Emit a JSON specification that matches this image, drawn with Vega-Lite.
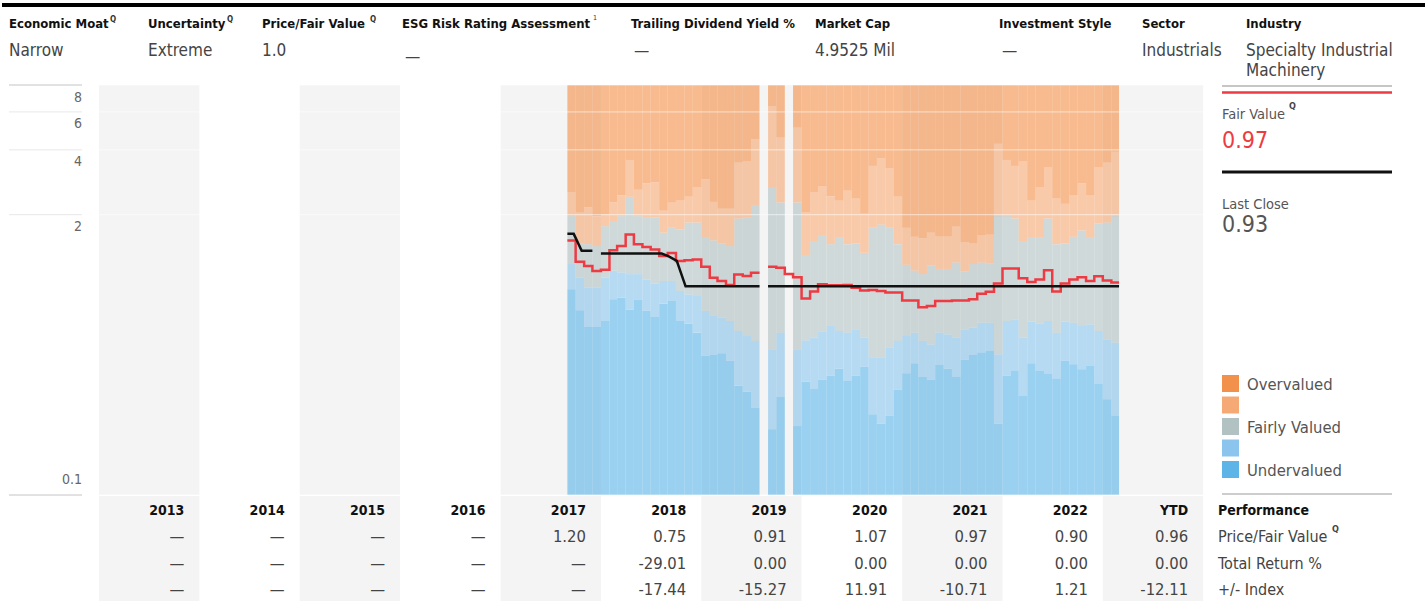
{
"$schema": "https://vega.github.io/schema/vega-lite/v6.json",
"padding": 0,
"background": "#ffffff",
"spacing": 0,
"config": {
  "view": {"stroke": null},
  "font": "DejaVu Sans Condensed, DejaVu Sans, sans-serif",
  "text": {"baseline": "alphabetic", "align": "left"},
  "concat": {"spacing": 0},
  "axisY": {"title": null}
},
"datasets": {
  "years": [
    {"start": "2013-01-01", "end": "2014-01-01"},
    {"start": "2015-01-01", "end": "2016-01-01"},
    {"start": "2017-01-01", "end": "2018-01-01"},
    {"start": "2019-01-01", "end": "2020-01-01"},
    {"start": "2021-01-01", "end": "2022-01-01"},
    {"start": "2023-01-01", "end": "2024-01-01"}
  ],
  "ticks": [
    {"tick": 0.1}, {"tick": 2}, {"tick": 4}, {"tick": 6}, {"tick": 8}
  ],
  "bands": [
    {"month": "2017-09-01", "end": "2017-10-01", "uTop": 0.901, "luTop": 1.18, "fTop": 1.97, "loTop": 2.55},
    {"month": "2017-10-01", "end": "2017-11-01", "uTop": 0.72, "luTop": 1.02, "fTop": 1.47, "loTop": 2.04},
    {"month": "2017-11-01", "end": "2017-12-01", "uTop": 0.602, "luTop": 0.917, "fTop": 1.46, "loTop": 2.17},
    {"month": "2017-12-01", "end": "2018-01-01", "uTop": 0.602, "luTop": 0.917, "fTop": 1.43, "loTop": 1.97},
    {"month": "2018-01-01", "end": "2018-02-01", "uTop": 0.642, "luTop": 1.02, "fTop": 1.77, "loTop": 2.01},
    {"month": "2018-02-01", "end": "2018-03-01", "uTop": 0.81, "luTop": 1.10, "fTop": 1.87, "loTop": 2.29},
    {"month": "2018-03-01", "end": "2018-04-01", "uTop": 0.824, "luTop": 1.08, "fTop": 1.97, "loTop": 2.46},
    {"month": "2018-04-01", "end": "2018-05-01", "uTop": 0.727, "luTop": 1.06, "fTop": 2.42, "loTop": 3.59},
    {"month": "2018-05-01", "end": "2018-06-01", "uTop": 0.804, "luTop": 1.06, "fTop": 1.97, "loTop": 2.61},
    {"month": "2018-06-01", "end": "2018-07-01", "uTop": 0.715, "luTop": 1.00, "fTop": 1.95, "loTop": 2.79},
    {"month": "2018-07-01", "end": "2018-08-01", "uTop": 0.67, "luTop": 0.957, "fTop": 1.94, "loTop": 2.82},
    {"month": "2018-08-01", "end": "2018-09-01", "uTop": 0.773, "luTop": 0.985, "fTop": 1.65, "loTop": 2.10},
    {"month": "2018-09-01", "end": "2018-10-01", "uTop": 0.795, "luTop": 0.985, "fTop": 1.74, "loTop": 2.28},
    {"month": "2018-10-01", "end": "2018-11-01", "uTop": 0.642, "luTop": 0.885, "fTop": 1.71, "loTop": 2.33},
    {"month": "2018-11-01", "end": "2018-12-01", "uTop": 0.624, "luTop": 0.854, "fTop": 1.84, "loTop": 2.42},
    {"month": "2018-12-01", "end": "2019-01-01", "uTop": 0.567, "luTop": 0.839, "fTop": 1.84, "loTop": 2.69},
    {"month": "2019-01-01", "end": "2019-02-01", "uTop": 0.442, "luTop": 0.715, "fTop": 1.56, "loTop": 2.92},
    {"month": "2019-02-01", "end": "2019-03-01", "uTop": 0.446, "luTop": 0.678, "fTop": 1.52, "loTop": 2.30},
    {"month": "2019-03-01", "end": "2019-04-01", "uTop": 0.455, "luTop": 0.665, "fTop": 1.47, "loTop": 2.13},
    {"month": "2019-04-01", "end": "2019-05-01", "uTop": 0.419, "luTop": 0.642, "fTop": 1.43, "loTop": 2.13},
    {"month": "2019-05-01", "end": "2019-06-01", "uTop": 0.321, "luTop": 0.577, "fTop": 1.92, "loTop": 3.49},
    {"month": "2019-06-01", "end": "2019-07-01", "uTop": 0.301, "luTop": 0.547, "fTop": 1.94, "loTop": 3.55},
    {"month": "2019-07-01", "end": "2019-08-01", "uTop": 0.254, "luTop": 0.519, "fTop": 2.20, "loTop": 4.48},
    {"month": "2019-09-01", "end": "2019-10-01", "uTop": 0.202, "luTop": 0.474, "fTop": 2.69, "loTop": 6.39},
    {"month": "2019-10-01", "end": "2019-11-01", "uTop": 0.285, "luTop": 0.567, "fTop": 2.28, "loTop": 4.56},
    {"month": "2019-12-01", "end": "2020-01-01", "uTop": 0.209, "luTop": 0.474, "fTop": 2.28, "loTop": 5.07},
    {"month": "2020-01-01", "end": "2020-02-01", "uTop": 0.335, "luTop": 0.522, "fTop": 1.30, "loTop": 2.06},
    {"month": "2020-02-01", "end": "2020-03-01", "uTop": 0.311, "luTop": 0.537, "fTop": 1.51, "loTop": 2.55},
    {"month": "2020-03-01", "end": "2020-04-01", "uTop": 0.342, "luTop": 0.573, "fTop": 1.61, "loTop": 2.72},
    {"month": "2020-04-01", "end": "2020-05-01", "uTop": 0.357, "luTop": 0.609, "fTop": 1.46, "loTop": 2.44},
    {"month": "2020-05-01", "end": "2020-06-01", "uTop": 0.387, "luTop": 0.577, "fTop": 1.56, "loTop": 2.32},
    {"month": "2020-06-01", "end": "2020-07-01", "uTop": 0.338, "luTop": 0.567, "fTop": 1.46, "loTop": 2.60},
    {"month": "2020-07-01", "end": "2020-08-01", "uTop": 0.357, "luTop": 0.587, "fTop": 1.47, "loTop": 2.37},
    {"month": "2020-08-01", "end": "2020-09-01", "uTop": 0.393, "luTop": 0.537, "fTop": 1.33, "loTop": 2.02},
    {"month": "2020-09-01", "end": "2020-10-01", "uTop": 0.237, "luTop": 0.434, "fTop": 1.74, "loTop": 3.37},
    {"month": "2020-10-01", "end": "2020-11-01", "uTop": 0.214, "luTop": 0.434, "fTop": 1.80, "loTop": 3.65},
    {"month": "2020-11-01", "end": "2020-12-01", "uTop": 0.233, "luTop": 0.483, "fTop": 1.74, "loTop": 3.28},
    {"month": "2020-12-01", "end": "2021-01-01", "uTop": 0.309, "luTop": 0.519, "fTop": 1.46, "loTop": 2.42},
    {"month": "2021-01-01", "end": "2021-02-01", "uTop": 0.367, "luTop": 0.547, "fTop": 1.17, "loTop": 1.74},
    {"month": "2021-02-01", "end": "2021-03-01", "uTop": 0.409, "luTop": 0.567, "fTop": 1.10, "loTop": 1.58},
    {"month": "2021-03-01", "end": "2021-04-01", "uTop": 0.353, "luTop": 0.519, "fTop": 1.06, "loTop": 1.55},
    {"month": "2021-04-01", "end": "2021-05-01", "uTop": 0.342, "luTop": 0.50, "fTop": 1.16, "loTop": 1.66},
    {"month": "2021-05-01", "end": "2021-06-01", "uTop": 0.401, "luTop": 0.567, "fTop": 1.12, "loTop": 1.59},
    {"month": "2021-06-01", "end": "2021-07-01", "uTop": 0.387, "luTop": 0.557, "fTop": 1.12, "loTop": 1.59},
    {"month": "2021-07-01", "end": "2021-08-01", "uTop": 0.353, "luTop": 0.537, "fTop": 1.20, "loTop": 1.77},
    {"month": "2021-08-01", "end": "2021-09-01", "uTop": 0.426, "luTop": 0.587, "fTop": 1.09, "loTop": 1.49},
    {"month": "2021-09-01", "end": "2021-10-01", "uTop": 0.446, "luTop": 0.598, "fTop": 1.18, "loTop": 1.47},
    {"month": "2021-10-01", "end": "2021-11-01", "uTop": 0.458, "luTop": 0.631, "fTop": 1.20, "loTop": 1.61},
    {"month": "2021-11-01", "end": "2021-12-01", "uTop": 0.466, "luTop": 0.631, "fTop": 1.19, "loTop": 1.62},
    {"month": "2021-12-01", "end": "2022-01-01", "uTop": 0.214, "luTop": 0.45, "fTop": 1.97, "loTop": 4.27},
    {"month": "2022-01-01", "end": "2022-02-01", "uTop": 0.357, "luTop": 0.642, "fTop": 1.97, "loTop": 3.59},
    {"month": "2022-02-01", "end": "2022-03-01", "uTop": 0.379, "luTop": 0.654, "fTop": 1.92, "loTop": 3.37},
    {"month": "2022-03-01", "end": "2022-04-01", "uTop": 0.288, "luTop": 0.537, "fTop": 1.51, "loTop": 3.55},
    {"month": "2022-04-01", "end": "2022-05-01", "uTop": 0.409, "luTop": 0.638, "fTop": 1.56, "loTop": 2.33},
    {"month": "2022-05-01", "end": "2022-06-01", "uTop": 0.376, "luTop": 0.624, "fTop": 1.56, "loTop": 2.69},
    {"month": "2022-06-01", "end": "2022-07-01", "uTop": 0.366, "luTop": 0.642, "fTop": 1.92, "loTop": 3.33},
    {"month": "2022-07-01", "end": "2022-08-01", "uTop": 0.347, "luTop": 0.567, "fTop": 1.46, "loTop": 2.38},
    {"month": "2022-08-01", "end": "2022-09-01", "uTop": 0.419, "luTop": 0.638, "fTop": 1.47, "loTop": 2.25},
    {"month": "2022-09-01", "end": "2022-10-01", "uTop": 0.404, "luTop": 0.631, "fTop": 1.58, "loTop": 2.47},
    {"month": "2022-10-01", "end": "2022-11-01", "uTop": 0.383, "luTop": 0.609, "fTop": 1.69, "loTop": 2.79},
    {"month": "2022-11-01", "end": "2022-12-01", "uTop": 0.397, "luTop": 0.62, "fTop": 1.56, "loTop": 2.47},
    {"month": "2022-12-01", "end": "2023-01-01", "uTop": 0.329, "luTop": 0.577, "fTop": 1.82, "loTop": 3.31},
    {"month": "2023-01-01", "end": "2023-02-01", "uTop": 0.278, "luTop": 0.528, "fTop": 1.84, "loTop": 3.49},
    {"month": "2023-02-01", "end": "2023-03-01", "uTop": 0.234, "luTop": 0.509, "fTop": 1.97, "loTop": 3.92}
  ],
  "fairValue": [
    {"date": "2017-09-01", "value": 1.52, "segment": 1},
    {"date": "2017-10-01", "value": 1.21, "segment": 1},
    {"date": "2017-11-01", "value": 1.156, "segment": 1},
    {"date": "2017-12-01", "value": 1.096, "segment": 1},
    {"date": "2018-01-01", "value": 1.11, "segment": 1},
    {"date": "2018-02-01", "value": 1.367, "segment": 1},
    {"date": "2018-03-01", "value": 1.432, "segment": 1},
    {"date": "2018-04-01", "value": 1.62, "segment": 1},
    {"date": "2018-05-01", "value": 1.46, "segment": 1},
    {"date": "2018-06-01", "value": 1.418, "segment": 1},
    {"date": "2018-07-01", "value": 1.38, "segment": 1},
    {"date": "2018-08-01", "value": 1.286, "segment": 1},
    {"date": "2018-09-01", "value": 1.33, "segment": 1},
    {"date": "2018-10-01", "value": 1.22, "segment": 1},
    {"date": "2018-11-01", "value": 1.23, "segment": 1},
    {"date": "2018-12-01", "value": 1.24, "segment": 1},
    {"date": "2019-01-01", "value": 1.148, "segment": 1},
    {"date": "2019-02-01", "value": 1.02, "segment": 1},
    {"date": "2019-03-01", "value": 0.985, "segment": 1},
    {"date": "2019-04-01", "value": 0.944, "segment": 1},
    {"date": "2019-05-01", "value": 1.055, "segment": 1},
    {"date": "2019-06-01", "value": 1.039, "segment": 1},
    {"date": "2019-07-01", "value": 1.076, "segment": 1},
    {"date": "2019-08-01", "value": 1.076, "segment": 1},
    {"date": "2019-09-01", "value": 1.148, "segment": 2},
    {"date": "2019-10-01", "value": 1.136, "segment": 2},
    {"date": "2019-11-01", "value": 1.06, "segment": 2},
    {"date": "2019-12-01", "value": 1.026, "segment": 2},
    {"date": "2020-01-01", "value": 0.817, "segment": 2},
    {"date": "2020-02-01", "value": 0.88, "segment": 2},
    {"date": "2020-03-01", "value": 0.95, "segment": 2},
    {"date": "2020-04-01", "value": 0.94, "segment": 2},
    {"date": "2020-05-01", "value": 0.94, "segment": 2},
    {"date": "2020-06-01", "value": 0.944, "segment": 2},
    {"date": "2020-07-01", "value": 0.915, "segment": 2},
    {"date": "2020-08-01", "value": 0.89, "segment": 2},
    {"date": "2020-09-01", "value": 0.895, "segment": 2},
    {"date": "2020-10-01", "value": 0.885, "segment": 2},
    {"date": "2020-11-01", "value": 0.87, "segment": 2},
    {"date": "2020-12-01", "value": 0.87, "segment": 2},
    {"date": "2021-01-01", "value": 0.80, "segment": 2},
    {"date": "2021-02-01", "value": 0.80, "segment": 2},
    {"date": "2021-03-01", "value": 0.743, "segment": 2},
    {"date": "2021-04-01", "value": 0.753, "segment": 2},
    {"date": "2021-05-01", "value": 0.795, "segment": 2},
    {"date": "2021-06-01", "value": 0.795, "segment": 2},
    {"date": "2021-07-01", "value": 0.80, "segment": 2},
    {"date": "2021-08-01", "value": 0.80, "segment": 2},
    {"date": "2021-09-01", "value": 0.81, "segment": 2},
    {"date": "2021-10-01", "value": 0.86, "segment": 2},
    {"date": "2021-11-01", "value": 0.878, "segment": 2},
    {"date": "2021-12-01", "value": 0.96, "segment": 2},
    {"date": "2022-01-01", "value": 1.126, "segment": 2},
    {"date": "2022-02-01", "value": 1.126, "segment": 2},
    {"date": "2022-03-01", "value": 1.013, "segment": 2},
    {"date": "2022-04-01", "value": 0.975, "segment": 2},
    {"date": "2022-05-01", "value": 1.0, "segment": 2},
    {"date": "2022-06-01", "value": 1.104, "segment": 2},
    {"date": "2022-07-01", "value": 0.88, "segment": 2},
    {"date": "2022-08-01", "value": 0.96, "segment": 2},
    {"date": "2022-09-01", "value": 1.0, "segment": 2},
    {"date": "2022-10-01", "value": 1.026, "segment": 2},
    {"date": "2022-11-01", "value": 0.985, "segment": 2},
    {"date": "2022-12-01", "value": 1.036, "segment": 2},
    {"date": "2023-01-01", "value": 0.99, "segment": 2},
    {"date": "2023-02-01", "value": 0.97, "segment": 2},
    {"date": "2023-03-01", "value": 0.97, "segment": 2}
  ],
  "price": [
    {"date": "2017-09-01", "value": 1.63, "segment": 1},
    {"date": "2017-09-24", "value": 1.63, "segment": 1},
    {"date": "2017-10-23", "value": 1.36, "segment": 1},
    {"date": "2017-12-01", "value": 1.36, "segment": 1},
    {"date": "2018-01-01", "value": 1.32, "segment": 2},
    {"date": "2018-08-10", "value": 1.32, "segment": 2},
    {"date": "2018-09-05", "value": 1.28, "segment": 2},
    {"date": "2018-10-04", "value": 1.22, "segment": 2},
    {"date": "2018-11-05", "value": 0.93, "segment": 2},
    {"date": "2019-08-01", "value": 0.93, "segment": 2},
    {"date": "2019-09-01", "value": 0.93, "segment": 3},
    {"date": "2023-03-01", "value": 0.93, "segment": 3}
  ],
  "performance": [
    {"year": "2013", "end": "2014-01-01", "priceFairValue": "—", "totalReturn": "—", "index": "—"},
    {"year": "2014", "end": "2015-01-01", "priceFairValue": "—", "totalReturn": "—", "index": "—"},
    {"year": "2015", "end": "2016-01-01", "priceFairValue": "—", "totalReturn": "—", "index": "—"},
    {"year": "2016", "end": "2017-01-01", "priceFairValue": "—", "totalReturn": "—", "index": "—"},
    {"year": "2017", "end": "2018-01-01", "priceFairValue": "1.20", "totalReturn": "—", "index": "—"},
    {"year": "2018", "end": "2019-01-01", "priceFairValue": "0.75", "totalReturn": "-29.01", "index": "-17.44"},
    {"year": "2019", "end": "2020-01-01", "priceFairValue": "0.91", "totalReturn": "0.00", "index": "-15.27"},
    {"year": "2020", "end": "2021-01-01", "priceFairValue": "1.07", "totalReturn": "0.00", "index": "11.91"},
    {"year": "2021", "end": "2022-01-01", "priceFairValue": "0.97", "totalReturn": "0.00", "index": "-10.71"},
    {"year": "2022", "end": "2023-01-01", "priceFairValue": "0.90", "totalReturn": "0.00", "index": "1.21"},
    {"year": "YTD", "end": "2024-01-01", "priceFairValue": "0.96", "totalReturn": "0.00", "index": "-12.11"}
  ]
},
"vconcat": [
  {
    "spacing": 0,
    "bounds": "flush",
    "hconcat": [
      {"width": 146, "height": 84, "data": {"values": [{"label": "Economic Moat", "note": "Q", "value": "Narrow"}]},
       "layer": [
        {"mark": {"type": "rule", "color": "#000000", "strokeWidth": 4}, "encoding": {"x": {"value": 0}, "x2": {"value": "width"}, "y": {"value": 5}}},
        {"mark": {"type": "text", "x": 7, "y": 28, "fontSize": 13, "fontWeight": "bold", "color": "#111111"}, "encoding": {"text": {"field": "label"}}},
        {"mark": {"type": "text", "x": 108, "y": 22, "fontSize": 8, "fontWeight": "bold", "color": "#333333"}, "encoding": {"text": {"field": "note"}}},
        {"mark": {"type": "text", "x": 7, "y": 56, "fontSize": 17, "color": "#444444"}, "encoding": {"text": {"field": "value"}}}
       ]},
      {"width": 114, "height": 84, "data": {"values": [{"label": "Uncertainty", "note": "Q", "value": "Extreme"}]},
       "layer": [
        {"mark": {"type": "rule", "color": "#000000", "strokeWidth": 4}, "encoding": {"x": {"value": 0}, "x2": {"value": "width"}, "y": {"value": 5}}},
        {"mark": {"type": "text", "x": 0, "y": 28, "fontSize": 13, "fontWeight": "bold", "color": "#111111"}, "encoding": {"text": {"field": "label"}}},
        {"mark": {"type": "text", "x": 79, "y": 22, "fontSize": 8, "fontWeight": "bold", "color": "#333333"}, "encoding": {"text": {"field": "note"}}},
        {"mark": {"type": "text", "x": 0, "y": 56, "fontSize": 17, "color": "#444444"}, "encoding": {"text": {"field": "value"}}}
       ]},
      {"width": 140, "height": 84, "data": {"values": [{"label": "Price/Fair Value", "note": "Q", "value": "1.0"}]},
       "layer": [
        {"mark": {"type": "rule", "color": "#000000", "strokeWidth": 4}, "encoding": {"x": {"value": 0}, "x2": {"value": "width"}, "y": {"value": 5}}},
        {"mark": {"type": "text", "x": 0, "y": 28, "fontSize": 13, "fontWeight": "bold", "color": "#111111"}, "encoding": {"text": {"field": "label"}}},
        {"mark": {"type": "text", "x": 108, "y": 22, "fontSize": 8, "fontWeight": "bold", "color": "#333333"}, "encoding": {"text": {"field": "note"}}},
        {"mark": {"type": "text", "x": 0, "y": 56, "fontSize": 17, "color": "#444444"}, "encoding": {"text": {"field": "value"}}}
       ]},
      {"width": 229, "height": 84, "data": {"values": [{"label": "ESG Risk Rating Assessment", "note": "1", "value": "—"}]},
       "layer": [
        {"mark": {"type": "rule", "color": "#000000", "strokeWidth": 4}, "encoding": {"x": {"value": 0}, "x2": {"value": "width"}, "y": {"value": 5}}},
        {"mark": {"type": "text", "x": 0, "y": 28, "fontSize": 13, "fontWeight": "bold", "color": "#111111"}, "encoding": {"text": {"field": "label"}}},
        {"mark": {"type": "text", "x": 191, "y": 20, "fontSize": 7, "color": "#333333"}, "encoding": {"text": {"field": "note"}}},
        {"mark": {"type": "text", "x": 3, "y": 62, "fontSize": 17, "color": "#444444"}, "encoding": {"text": {"field": "value"}}}
       ]},
      {"width": 184, "height": 84, "data": {"values": [{"label": "Trailing Dividend Yield %", "value": "—"}]},
       "layer": [
        {"mark": {"type": "rule", "color": "#000000", "strokeWidth": 4}, "encoding": {"x": {"value": 0}, "x2": {"value": "width"}, "y": {"value": 5}}},
        {"mark": {"type": "text", "x": 0, "y": 28, "fontSize": 13, "fontWeight": "bold", "color": "#111111"}, "encoding": {"text": {"field": "label"}}},
        {"mark": {"type": "text", "x": 3, "y": 56, "fontSize": 17, "color": "#444444"}, "encoding": {"text": {"field": "value"}}}
       ]},
      {"width": 184, "height": 84, "data": {"values": [{"label": "Market Cap", "value": "4.9525 Mil"}]},
       "layer": [
        {"mark": {"type": "rule", "color": "#000000", "strokeWidth": 4}, "encoding": {"x": {"value": 0}, "x2": {"value": "width"}, "y": {"value": 5}}},
        {"mark": {"type": "text", "x": 0, "y": 28, "fontSize": 13, "fontWeight": "bold", "color": "#111111"}, "encoding": {"text": {"field": "label"}}},
        {"mark": {"type": "text", "x": 0, "y": 56, "fontSize": 17, "color": "#444444"}, "encoding": {"text": {"field": "value"}}}
       ]},
      {"width": 143, "height": 84, "data": {"values": [{"label": "Investment Style", "value": "—"}]},
       "layer": [
        {"mark": {"type": "rule", "color": "#000000", "strokeWidth": 4}, "encoding": {"x": {"value": 0}, "x2": {"value": "width"}, "y": {"value": 5}}},
        {"mark": {"type": "text", "x": 0, "y": 28, "fontSize": 13, "fontWeight": "bold", "color": "#111111"}, "encoding": {"text": {"field": "label"}}},
        {"mark": {"type": "text", "x": 3, "y": 56, "fontSize": 17, "color": "#444444"}, "encoding": {"text": {"field": "value"}}}
       ]},
      {"width": 104, "height": 84, "data": {"values": [{"label": "Sector", "value": "Industrials"}]},
       "layer": [
        {"mark": {"type": "rule", "color": "#000000", "strokeWidth": 4}, "encoding": {"x": {"value": 0}, "x2": {"value": "width"}, "y": {"value": 5}}},
        {"mark": {"type": "text", "x": 0, "y": 28, "fontSize": 13, "fontWeight": "bold", "color": "#111111"}, "encoding": {"text": {"field": "label"}}},
        {"mark": {"type": "text", "x": 0, "y": 56, "fontSize": 17, "color": "#444444"}, "encoding": {"text": {"field": "value"}}}
       ]},
      {"width": 181, "height": 84, "data": {"values": [{"label": "Industry", "value": "Specialty Industrial\nMachinery"}]},
       "layer": [
        {"mark": {"type": "rule", "color": "#000000", "strokeWidth": 4}, "encoding": {"x": {"value": 0}, "x2": {"value": "width"}, "y": {"value": 5}}},
        {"mark": {"type": "text", "x": 0, "y": 28, "fontSize": 13, "fontWeight": "bold", "color": "#111111"}, "encoding": {"text": {"field": "label"}}},
        {"mark": {"type": "text", "x": 0, "y": 56, "fontSize": 17, "lineHeight": 20, "lineBreak": "\n", "color": "#444444"}, "encoding": {"text": {"field": "value"}}}
       ]}
    ]
  },
  {
    "spacing": 0,
    "bounds": "flush",
    "hconcat": [
      {
        "width": 1205,
        "height": 410,
        "layer": [
          {"data": {"name": "years"}, "mark": {"type": "rect", "color": "#f4f4f4"},
           "encoding": {
             "x": {"field": "start", "type": "temporal", "axis": null, "scale": {"type": "utc", "domain": [{"year": 2012, "month": 1, "date": 14, "utc": true}, {"year": 2024, "month": 1, "date": 15, "utc": true}]}},
             "x2": {"field": "end"},
             "y": {"value": 0},
             "y2": {"value": "height"}}},
          {"data": {"name": "bands"}, "mark": {"type": "rect", "color": "#5db4e6", "opacity": 0.62},
           "encoding": {
             "x": {"field": "month", "type": "temporal", "axis": null},
             "x2": {"field": "end"},
             "y": {"field": "uTop", "type": "quantitative", "axis": null, "scale": {"type": "log", "domain": [0.1, 8], "nice": false}},
             "y2": {"value": "height"}}},
          {"data": {"name": "bands"}, "mark": {"type": "rect", "color": "#8bc4ec", "opacity": 0.62},
           "encoding": {
             "x": {"field": "month", "type": "temporal", "axis": null},
             "x2": {"field": "end"},
             "y": {"field": "luTop", "type": "quantitative", "axis": null},
             "y2": {"field": "uTop"}}},
          {"data": {"name": "bands"}, "mark": {"type": "rect", "color": "#b2c2c2", "opacity": 0.62},
           "encoding": {
             "x": {"field": "month", "type": "temporal", "axis": null},
             "x2": {"field": "end"},
             "y": {"field": "fTop", "type": "quantitative", "axis": null},
             "y2": {"field": "luTop"}}},
          {"data": {"name": "bands"}, "mark": {"type": "rect", "color": "#f5aa76", "opacity": 0.62},
           "encoding": {
             "x": {"field": "month", "type": "temporal", "axis": null},
             "x2": {"field": "end"},
             "y": {"field": "loTop", "type": "quantitative", "axis": null},
             "y2": {"field": "fTop"}}},
          {"data": {"name": "bands"}, "mark": {"type": "rect", "color": "#f2914b", "opacity": 0.62},
           "encoding": {
             "x": {"field": "month", "type": "temporal", "axis": null},
             "x2": {"field": "end"},
             "y": {"field": "loTop", "type": "quantitative", "axis": null},
             "y2": {"value": 0}}},
          {"data": {"name": "ticks"}, "mark": {"type": "rule", "color": "#ffffff", "opacity": 0.6, "strokeWidth": 1},
           "encoding": {
             "y": {"field": "tick", "type": "quantitative", "axis": null},
             "x": {"value": 80},
             "x2": {"value": "width"}}},
          {"data": {"name": "ticks"}, "mark": {"type": "rule", "strokeWidth": 1},
           "encoding": {
             "y": {"field": "tick", "type": "quantitative", "axis": null},
             "x": {"value": 7},
             "x2": {"value": 80},
             "color": {"condition": {"test": "datum.tick > 7 || datum.tick < 1", "value": "#c4c4c4"}, "value": "#e8e8e8"}}},
          {"data": {"name": "ticks"}, "transform": [{"filter": "datum.tick >= 1"}],
           "mark": {"type": "text", "align": "right", "fontSize": 14, "color": "#666666", "dy": 16.5},
           "encoding": {
             "y": {"field": "tick", "type": "quantitative", "axis": null},
             "x": {"value": 80},
             "text": {"field": "tick", "type": "quantitative"}}},
          {"data": {"name": "ticks"}, "transform": [{"filter": "datum.tick < 1"}],
           "mark": {"type": "text", "align": "right", "fontSize": 14, "color": "#666666", "dy": -11.5},
           "encoding": {
             "y": {"field": "tick", "type": "quantitative", "axis": null},
             "x": {"value": 80},
             "text": {"field": "tick", "type": "quantitative"}}},
          {"data": {"name": "fairValue"}, "mark": {"type": "line", "interpolate": "step-after", "color": "#ee3a43", "strokeWidth": 2.5},
           "encoding": {
             "x": {"field": "date", "type": "temporal", "axis": null},
             "y": {"field": "value", "type": "quantitative", "axis": null},
             "detail": {"field": "segment", "type": "nominal"}}},
          {"data": {"name": "price"}, "mark": {"type": "line", "color": "#111111", "strokeWidth": 2.5},
           "encoding": {
             "x": {"field": "date", "type": "temporal", "axis": null},
             "y": {"field": "value", "type": "quantitative", "axis": null},
             "detail": {"field": "segment", "type": "nominal"}}}
        ]
      },
      {
        "width": 220,
        "height": 410,
        "layer": [
          {"data": {"values": [{}]}, "mark": {"type": "rule", "color": "#c6c6c6", "strokeWidth": 2}, "encoding": {"x": {"value": 15}, "x2": {"value": 185}, "y": {"value": 1}}},
          {"data": {"values": [{}]}, "mark": {"type": "rule", "color": "#ee3a43", "strokeWidth": 2.5}, "encoding": {"x": {"value": 15}, "x2": {"value": 185}, "y": {"value": 7.5}}},
          {"data": {"values": [{}]}, "mark": {"type": "rule", "color": "#111111", "strokeWidth": 3}, "encoding": {"x": {"value": 15}, "x2": {"value": 185}, "y": {"value": 87}}},
          {"data": {"values": [{}]}, "mark": {"type": "rule", "color": "#bdbdbd", "strokeWidth": 1.5}, "encoding": {"x": {"value": 15}, "x2": {"value": 185}, "y": {"value": 409}}},
          {"data": {"values": [{"label": "Fair Value", "note": "Q", "value": "0.97"}]},
           "layer": [
             {"mark": {"type": "text", "x": 15, "y": 33.5, "fontSize": 14.5, "color": "#555555"}, "encoding": {"text": {"field": "label"}}},
             {"mark": {"type": "text", "x": 82, "y": 24, "fontSize": 9, "fontWeight": "bold", "color": "#444444"}, "encoding": {"text": {"field": "note"}}},
             {"mark": {"type": "text", "x": 15, "y": 63, "fontSize": 23, "color": "#ee3a43"}, "encoding": {"text": {"field": "value"}}}
           ]},
          {"data": {"values": [{"label": "Last Close", "value": "0.93"}]},
           "layer": [
             {"mark": {"type": "text", "x": 15, "y": 123.5, "fontSize": 14.5, "color": "#555555"}, "encoding": {"text": {"field": "label"}}},
             {"mark": {"type": "text", "x": 15, "y": 146.5, "fontSize": 23, "color": "#555555"}, "encoding": {"text": {"field": "value"}}}
           ]},
          {"data": {"values": [
             {"band": "Overvalued", "label": "Overvalued"},
             {"band": "Moderately Overvalued", "label": ""},
             {"band": "Fairly Valued", "label": "Fairly Valued"},
             {"band": "Moderately Undervalued", "label": ""},
             {"band": "Undervalued", "label": "Undervalued"}]},
           "layer": [
             {"mark": {"type": "square", "size": 289, "opacity": 1, "filled": true},
              "encoding": {
                "x": {"value": 23.5},
                "y": {"field": "band", "type": "nominal", "axis": null, "scale": {"type": "point", "padding": 0, "range": [298.5, 384.5], "domain": ["Overvalued", "Moderately Overvalued", "Fairly Valued", "Moderately Undervalued", "Undervalued"]}},
                "color": {"field": "band", "type": "nominal", "legend": null, "scale": {"domain": ["Overvalued", "Moderately Overvalued", "Fairly Valued", "Moderately Undervalued", "Undervalued"], "range": ["#f2914b", "#f5aa76", "#b2c2c2", "#8bc4ec", "#5db4e6"]}}}},
             {"mark": {"type": "text", "x": 40, "fontSize": 16.5, "color": "#555555", "baseline": "middle", "dy": 1},
              "encoding": {
                "y": {"field": "band", "type": "nominal", "axis": null},
                "text": {"field": "label"}}}
           ]}
        ]
      }
    ]
  },
  {
    "spacing": 0,
    "bounds": "flush",
    "hconcat": [
      {
        "width": 1205,
        "height": 107,
        "layer": [
          {"data": {"name": "years"}, "mark": {"type": "rect", "color": "#f4f4f4"},
           "encoding": {
             "x": {"field": "start", "type": "temporal", "axis": null, "scale": {"type": "utc", "domain": [{"year": 2012, "month": 1, "date": 14, "utc": true}, {"year": 2024, "month": 1, "date": 15, "utc": true}]}},
             "x2": {"field": "end"},
             "y": {"value": 0},
             "y2": {"value": "height"}}},
          {"data": {"name": "performance"}, "transform": [{"fold": ["year"], "as": ["row", "text"]}],
           "mark": {"type": "text", "align": "right", "dx": -15, "fontSize": 14, "fontWeight": "bold", "color": "#111111", "baseline": "middle"},
           "encoding": {
             "x": {"field": "end", "type": "temporal", "axis": null},
             "y": {"field": "row", "type": "nominal", "axis": null, "scale": {"type": "point", "padding": 0, "range": [14.5, 94], "domain": ["year", "priceFairValue", "totalReturn", "index"]}},
             "text": {"field": "text"}}},
          {"data": {"name": "performance"}, "transform": [{"fold": ["priceFairValue", "totalReturn", "index"], "as": ["row", "text"]}],
           "mark": {"type": "text", "align": "right", "dx": -15, "fontSize": 16.5, "color": "#444444", "baseline": "middle"},
           "encoding": {
             "x": {"field": "end", "type": "temporal", "axis": null},
             "y": {"field": "row", "type": "nominal", "axis": null},
             "text": {"field": "text"}}}
        ]
      },
      {
        "width": 220,
        "height": 107,
        "data": {"values": [
          {"row": "year", "text": "Performance"},
          {"row": "priceFairValue", "text": "Price/Fair Value"},
          {"row": "totalReturn", "text": "Total Return %"},
          {"row": "index", "text": "+/- Index"}]},
        "layer": [
          {"transform": [{"filter": "datum.row === 'year'"}],
           "mark": {"type": "text", "x": 11, "fontSize": 14, "fontWeight": "bold", "color": "#111111", "baseline": "middle"},
           "encoding": {
             "y": {"field": "row", "type": "nominal", "axis": null, "scale": {"type": "point", "padding": 0, "range": [14.5, 94], "domain": ["year", "priceFairValue", "totalReturn", "index"]}},
             "text": {"field": "text"}}},
          {"transform": [{"filter": "datum.row !== 'year'"}],
           "mark": {"type": "text", "x": 11, "fontSize": 16, "color": "#444444", "baseline": "middle"},
           "encoding": {
             "y": {"field": "row", "type": "nominal", "axis": null},
             "text": {"field": "text"}}},
          {"data": {"values": [{"note": "Q"}]},
           "mark": {"type": "text", "x": 125, "y": 36, "fontSize": 9, "fontWeight": "bold", "color": "#444444"},
           "encoding": {"text": {"field": "note"}}}
        ]
      }
    ]
  }
]
}
